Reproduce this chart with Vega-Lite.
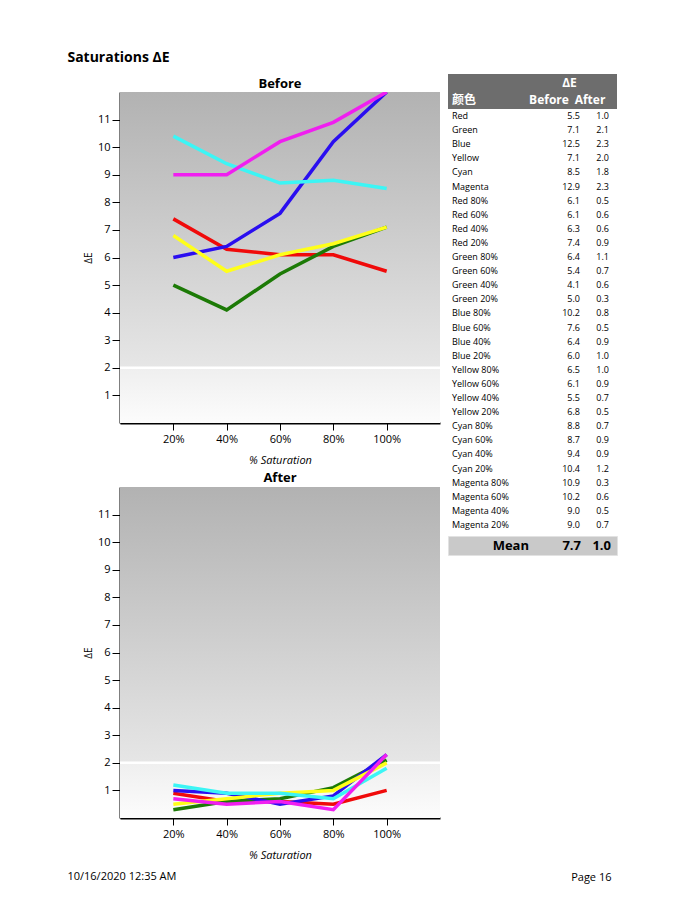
{
  "$schema": "https://vega.github.io/schema/vega-lite/v6.json",
  "background": "white",
  "padding": {"left": 67, "top": 51, "right": 5, "bottom": 5},
  "config": {
    "font": "Open Sans",
    "view": {"stroke": null},
    "title": {"color": "black"},
    "axis": {"labelColor": "black", "titleColor": "black", "domainColor": "black", "tickColor": "black", "grid": false, "labelFont": "Open Sans", "titleFont": "Open Sans", "zindex": 1, "labelOverlap": false}
  },
  "title": {"text": "Saturations ΔE", "anchor": "start", "fontSize": 14, "fontWeight": "bold", "offset": 9},
  "datasets": {
    "lines": [
      {"color": "Red", "sat": 20, "before": 7.4, "after": 0.9},
      {"color": "Red", "sat": 40, "before": 6.3, "after": 0.6},
      {"color": "Red", "sat": 60, "before": 6.1, "after": 0.6},
      {"color": "Red", "sat": 80, "before": 6.1, "after": 0.5},
      {"color": "Red", "sat": 100, "before": 5.5, "after": 1.0},
      {"color": "Green", "sat": 20, "before": 5.0, "after": 0.3},
      {"color": "Green", "sat": 40, "before": 4.1, "after": 0.6},
      {"color": "Green", "sat": 60, "before": 5.4, "after": 0.7},
      {"color": "Green", "sat": 80, "before": 6.4, "after": 1.1},
      {"color": "Green", "sat": 100, "before": 7.1, "after": 2.1},
      {"color": "Blue", "sat": 20, "before": 6.0, "after": 1.0},
      {"color": "Blue", "sat": 40, "before": 6.4, "after": 0.9},
      {"color": "Blue", "sat": 60, "before": 7.6, "after": 0.5},
      {"color": "Blue", "sat": 80, "before": 10.2, "after": 0.8},
      {"color": "Blue", "sat": 100, "before": 12.5, "after": 2.3},
      {"color": "Yellow", "sat": 20, "before": 6.8, "after": 0.5},
      {"color": "Yellow", "sat": 40, "before": 5.5, "after": 0.7},
      {"color": "Yellow", "sat": 60, "before": 6.1, "after": 0.9},
      {"color": "Yellow", "sat": 80, "before": 6.5, "after": 1.0},
      {"color": "Yellow", "sat": 100, "before": 7.1, "after": 2.0},
      {"color": "Cyan", "sat": 20, "before": 10.4, "after": 1.2},
      {"color": "Cyan", "sat": 40, "before": 9.4, "after": 0.9},
      {"color": "Cyan", "sat": 60, "before": 8.7, "after": 0.9},
      {"color": "Cyan", "sat": 80, "before": 8.8, "after": 0.7},
      {"color": "Cyan", "sat": 100, "before": 8.5, "after": 1.8},
      {"color": "Magenta", "sat": 20, "before": 9.0, "after": 0.7},
      {"color": "Magenta", "sat": 40, "before": 9.0, "after": 0.5},
      {"color": "Magenta", "sat": 60, "before": 10.2, "after": 0.6},
      {"color": "Magenta", "sat": 80, "before": 10.9, "after": 0.3},
      {"color": "Magenta", "sat": 100, "before": 12.9, "after": 2.3}
    ],
    "table": [
      {"name": "Red", "before": 5.5, "after": 1.0},
      {"name": "Green", "before": 7.1, "after": 2.1},
      {"name": "Blue", "before": 12.5, "after": 2.3},
      {"name": "Yellow", "before": 7.1, "after": 2.0},
      {"name": "Cyan", "before": 8.5, "after": 1.8},
      {"name": "Magenta", "before": 12.9, "after": 2.3},
      {"name": "Red 80%", "before": 6.1, "after": 0.5},
      {"name": "Red 60%", "before": 6.1, "after": 0.6},
      {"name": "Red 40%", "before": 6.3, "after": 0.6},
      {"name": "Red 20%", "before": 7.4, "after": 0.9},
      {"name": "Green 80%", "before": 6.4, "after": 1.1},
      {"name": "Green 60%", "before": 5.4, "after": 0.7},
      {"name": "Green 40%", "before": 4.1, "after": 0.6},
      {"name": "Green 20%", "before": 5.0, "after": 0.3},
      {"name": "Blue 80%", "before": 10.2, "after": 0.8},
      {"name": "Blue 60%", "before": 7.6, "after": 0.5},
      {"name": "Blue 40%", "before": 6.4, "after": 0.9},
      {"name": "Blue 20%", "before": 6.0, "after": 1.0},
      {"name": "Yellow 80%", "before": 6.5, "after": 1.0},
      {"name": "Yellow 60%", "before": 6.1, "after": 0.9},
      {"name": "Yellow 40%", "before": 5.5, "after": 0.7},
      {"name": "Yellow 20%", "before": 6.8, "after": 0.5},
      {"name": "Cyan 80%", "before": 8.8, "after": 0.7},
      {"name": "Cyan 60%", "before": 8.7, "after": 0.9},
      {"name": "Cyan 40%", "before": 9.4, "after": 0.9},
      {"name": "Cyan 20%", "before": 10.4, "after": 1.2},
      {"name": "Magenta 80%", "before": 10.9, "after": 0.3},
      {"name": "Magenta 60%", "before": 10.2, "after": 0.6},
      {"name": "Magenta 40%", "before": 9.0, "after": 0.5},
      {"name": "Magenta 20%", "before": 9.0, "after": 0.7}
    ],
    "mean": [{"label": "Mean", "before": 7.7, "after": 1.0}]
  },
  "spacing": 5,
  "hconcat": [
    {
      "title": {"text": "10/16/2020 12:35 AM", "orient": "bottom", "anchor": "start", "dx": -16, "fontSize": 11, "fontWeight": "normal", "offset": 11},
      "spacing": 3,
      "vconcat": [
        {
          "width": 320,
          "height": 1,
          "data": {"values": []},
          "mark": "point"
        },
        {
          "title": {"text": "Before", "fontSize": 13, "fontWeight": "bold", "offset": 1},
          "width": 320,
          "height": 331,
          "layer": [
            {
              "data": {"values": [{}]},
              "mark": {"type": "rect", "color": {"gradient": "linear", "x1": 0, "y1": 0, "x2": 0, "y2": 1, "stops": [{"offset": 0, "color": "#b2b2b2"}, {"offset": 1, "color": "#e6e6e6"}]}},
              "encoding": {"x": {"datum": 0, "type": "quantitative"}, "x2": {"datum": 120}, "y": {"datum": 12, "type": "quantitative"}, "y2": {"datum": 2}}
            },
            {
              "data": {"values": [{}]},
              "mark": {"type": "rect", "color": {"gradient": "linear", "x1": 0, "y1": 0, "x2": 0, "y2": 1, "stops": [{"offset": 0, "color": "#efefef"}, {"offset": 1, "color": "#fcfcfc"}]}},
              "encoding": {"x": {"datum": 0, "type": "quantitative"}, "x2": {"datum": 120}, "y": {"datum": 2, "type": "quantitative"}, "y2": {"datum": 0}}
            },
            {
              "data": {"values": [{}]},
              "mark": {"type": "rule", "color": "white", "strokeWidth": 2.5},
              "encoding": {"y": {"datum": 2, "type": "quantitative"}}
            },
            {
              "data": {"name": "lines"},
              "mark": {"type": "line", "strokeWidth": 3.5, "clip": true},
              "encoding": {
                "x": {"field": "sat", "type": "quantitative", "scale": {"domain": [0, 120], "nice": false},
                  "axis": {"values": [20, 40, 60, 80, 100], "tickCount": 10, "labelExpr": "datum.value + '%'", "title": "% Saturation", "titleFontStyle": "italic", "titleFontWeight": "normal", "titleFontSize": 11, "labelFontSize": 11, "tickSize": 7, "labelPadding": 3, "domainWidth": 2, "titlePadding": 10}},
                "y": {"field": "before", "type": "quantitative", "scale": {"domain": [0, 12], "nice": false, "clamp": true},
                  "axis": {"values": [1, 2, 3, 4, 5, 6, 7, 8, 9, 10, 11], "tickCount": 20, "format": "d", "labelOverlap": false, "labelBound": false, "title": "ΔE", "titleFontWeight": "normal", "titleFontSize": 10, "labelFontSize": 11, "tickSize": 8, "labelPadding": 2, "domainWidth": 2, "titlePadding": 4}},
                "color": {"field": "color", "type": "nominal", "legend": null,
                  "scale": {"domain": ["Red", "Green", "Blue", "Yellow", "Cyan", "Magenta"], "range": ["#f00a0a", "#1c7a06", "#2a0ef0", "#ffff1a", "#3cf5f5", "#f01ef0"]}}
              }
            }
          ]
        },
        {
          "width": 320,
          "height": 1,
          "data": {"values": []},
          "mark": "point"
        },
        {
          "title": {"text": "After", "fontSize": 13, "fontWeight": "bold", "offset": 2},
          "width": 320,
          "height": 331,
          "layer": [
            {
              "data": {"values": [{}]},
              "mark": {"type": "rect", "color": {"gradient": "linear", "x1": 0, "y1": 0, "x2": 0, "y2": 1, "stops": [{"offset": 0, "color": "#b2b2b2"}, {"offset": 1, "color": "#e6e6e6"}]}},
              "encoding": {"x": {"datum": 0, "type": "quantitative"}, "x2": {"datum": 120}, "y": {"datum": 12, "type": "quantitative"}, "y2": {"datum": 2}}
            },
            {
              "data": {"values": [{}]},
              "mark": {"type": "rect", "color": {"gradient": "linear", "x1": 0, "y1": 0, "x2": 0, "y2": 1, "stops": [{"offset": 0, "color": "#efefef"}, {"offset": 1, "color": "#fcfcfc"}]}},
              "encoding": {"x": {"datum": 0, "type": "quantitative"}, "x2": {"datum": 120}, "y": {"datum": 2, "type": "quantitative"}, "y2": {"datum": 0}}
            },
            {
              "data": {"values": [{}]},
              "mark": {"type": "rule", "color": "white", "strokeWidth": 2.5},
              "encoding": {"y": {"datum": 2, "type": "quantitative"}}
            },
            {
              "data": {"name": "lines"},
              "mark": {"type": "line", "strokeWidth": 3.5, "clip": true},
              "encoding": {
                "x": {"field": "sat", "type": "quantitative", "scale": {"domain": [0, 120], "nice": false},
                  "axis": {"values": [20, 40, 60, 80, 100], "tickCount": 10, "labelExpr": "datum.value + '%'", "title": "% Saturation", "titleFontStyle": "italic", "titleFontWeight": "normal", "titleFontSize": 11, "labelFontSize": 11, "tickSize": 7, "labelPadding": 3, "domainWidth": 2, "titlePadding": 10}},
                "y": {"field": "after", "type": "quantitative", "scale": {"domain": [0, 12], "nice": false, "clamp": true},
                  "axis": {"values": [1, 2, 3, 4, 5, 6, 7, 8, 9, 10, 11], "tickCount": 20, "format": "d", "labelOverlap": false, "labelBound": false, "title": "ΔE", "titleFontWeight": "normal", "titleFontSize": 10, "labelFontSize": 11, "tickSize": 8, "labelPadding": 2, "domainWidth": 2, "titlePadding": 4}},
                "color": {"field": "color", "type": "nominal", "legend": null,
                  "scale": {"domain": ["Red", "Green", "Blue", "Yellow", "Cyan", "Magenta"], "range": ["#f00a0a", "#1c7a06", "#2a0ef0", "#ffff1a", "#3cf5f5", "#f01ef0"]}}
              }
            }
          ]
        }
      ]
    },
    {
      "title": {"text": "Page 16", "orient": "bottom", "anchor": "end", "dx": -6, "fontSize": 11, "fontWeight": "normal", "offset": 316},
      "spacing": 0,
      "vconcat": [
        {
          "width": 169,
          "height": 35,
          "view": {"fill": "#6d6d6d", "stroke": null},
          "data": {"values": [{}]},
          "encoding": {
            "x": {"datum": "before", "type": "nominal", "scale": {"type": "point", "domain": ["name", "before", "after"], "padding": 0}, "axis": null},
            "y": {"datum": "r2", "type": "nominal", "scale": {"type": "point", "domain": ["r1", "r2"], "padding": 0.5}, "axis": null}
          },
          "layer": [
            {"mark": {"type": "text", "color": "white", "fontWeight": "bold", "fontSize": 12, "dx": 37}, "encoding": {"y": {"datum": "r1", "type": "nominal"}, "text": {"value": "ΔE"}}},
            {"mark": {"type": "text", "color": "white", "fontWeight": "bold", "fontSize": 12, "dx": 16, "font": "Noto Sans CJK SC"}, "encoding": {"x": {"datum": "name", "type": "nominal"}, "text": {"value": "颜色"}}},
            {"mark": {"type": "text", "color": "white", "fontWeight": "bold", "fontSize": 12, "dx": 16.5}, "encoding": {"text": {"value": "Before"}}},
            {"mark": {"type": "text", "color": "white", "fontWeight": "bold", "fontSize": 12, "dx": -27}, "encoding": {"x": {"datum": "after", "type": "nominal"}, "text": {"value": "After"}}}
          ]
        },
        {
          "width": 169,
          "height": 426,
          "view": {"stroke": null},
          "data": {"name": "table"},
          "encoding": {
            "y": {"field": "name", "type": "nominal", "sort": null, "axis": null, "scale": {"type": "point", "padding": 0.606, "align": 0.41}}
          },
          "layer": [
            {"mark": {"type": "text", "align": "left", "fontSize": 9, "dx": 4}, "encoding": {"x": {"datum": "name", "type": "nominal", "scale": {"type": "point", "domain": ["name", "before", "after"], "padding": 0}, "axis": null}, "text": {"field": "name"}}},
            {"mark": {"type": "text", "align": "right", "fontSize": 9, "dx": 47.5}, "encoding": {"x": {"datum": "before", "type": "nominal"}, "text": {"field": "before", "type": "quantitative", "format": ".1f"}}},
            {"mark": {"type": "text", "align": "right", "fontSize": 9, "dx": -8}, "encoding": {"x": {"datum": "after", "type": "nominal"}, "text": {"field": "after", "type": "quantitative", "format": ".1f"}}}
          ]
        },
        {
          "width": 169,
          "height": 19,
          "view": {"fill": "#c9c9c9", "stroke": "#e2e2e2"},
          "data": {"name": "mean"},
          "encoding": {
            "y": {"datum": "m", "type": "nominal", "axis": null}
          },
          "layer": [
            {"mark": {"type": "text", "align": "right", "fontSize": 13, "fontWeight": "bold", "dx": 81}, "encoding": {"x": {"datum": "name", "type": "nominal", "scale": {"type": "point", "domain": ["name", "before", "after"], "padding": 0}, "axis": null}, "text": {"field": "label"}}},
            {"mark": {"type": "text", "align": "right", "fontSize": 13, "fontWeight": "bold", "dx": 48.5}, "encoding": {"x": {"datum": "before", "type": "nominal"}, "text": {"field": "before", "type": "quantitative", "format": ".1f"}}},
            {"mark": {"type": "text", "align": "right", "fontSize": 13, "fontWeight": "bold", "dx": -6}, "encoding": {"x": {"datum": "after", "type": "nominal"}, "text": {"field": "after", "type": "quantitative", "format": ".1f"}}}
          ]
        }
      ]
    }
  ]
}
